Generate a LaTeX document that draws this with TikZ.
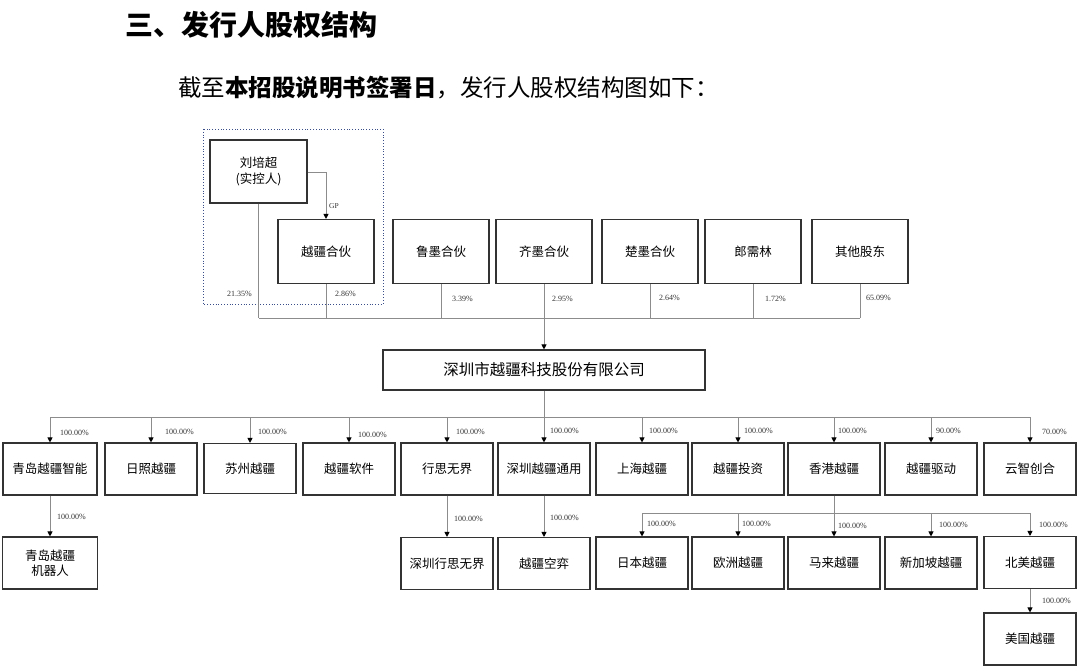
\documentclass[tikz,border=0pt]{standalone}
\usepackage{fontspec}
\setmainfont{Liberation Serif}
\newfontfamily\cjk{Noto Sans CJK SC}
\usetikzlibrary{arrows.meta}
\definecolor{bordercol}{HTML}{333333}
\definecolor{linecol}{HTML}{8C8C8C}
\definecolor{dotcol}{HTML}{3A4F8A}
\tikzset{
  bx/.style={draw=bordercol, line width=1.1pt, fill=white, minimum width=92pt, minimum height=52pt, inner sep=1pt, align=center, font=\cjk\fontsize{12.5}{15.5}\selectfont},
  shbox/.style={bx, minimum width=96pt, minimum height=64pt},
  conn/.style={draw=linecol, line width=0.9pt},
  arr/.style={conn, -{Triangle[length=5pt,width=5pt,fill=black,color=black]}},
  pct/.style={font=\fontsize{8}{9}\selectfont, text=black!80, inner sep=0pt, anchor=west},
}
\begin{document}
\begin{tikzpicture}[x=1pt,y=-1pt]
\useasboundingbox (0,0) rectangle (1080,671);
% titles
\node[anchor=west, font=\cjk\bfseries\fontsize{28}{31}\selectfont, inner sep=0pt] (title) at (125,25) {三、发行人股权结构};
\node[anchor=west, font=\cjk\fontsize{23.5}{27}\selectfont, inner sep=0pt] (sub) at (178,88) {截至{\bfseries 本招股说明书签署日}，发行人股权结构图如下：};
% dotted frame
\draw[dotcol, dotted, line width=0.8pt] (203,129) rectangle (383,304);
% shareholders
\node[bx, minimum width=97pt, minimum height=63pt] (liu) at (258.5,171.5) {刘培超\\(实控人)};
\node[shbox] (yjhh) at (326,251.5) {越疆合伙};
\node[shbox] (lm) at (441,251.5) {鲁墨合伙};
\node[shbox] (qm) at (544,251.5) {齐墨合伙};
\node[shbox] (cm) at (650,251.5) {楚墨合伙};
\node[shbox] (lxl) at (753,251.5) {郎需林};
\node[shbox] (qt) at (860,251.5) {其他股东};
% GP connector
\coordinate (gpc) at (326,172);
\draw[arr] (liu.east |- gpc) -- (gpc) -- (yjhh.north);
\node[pct, font=\fontsize{7.5}{8}\selectfont] (gp) at (329,206) {GP};
% main company
\node[bx, minimum width=322pt, minimum height=40pt, font=\cjk\fontsize{15.5}{18}\selectfont] (main) at (544,370) {深圳市越疆科技股份有限公司};
% shareholder bus
\coordinate (busL) at (259,318);
\coordinate (busR) at (860,318);
\draw[conn] (liu.south) -- (liu.south |- busL);
\foreach \n in {yjhh,lm,qm,cm,lxl,qt}{\draw[conn] (\n.south) -- (\n.south |- busL);}
\draw[conn] (busL) -- (busR);
\draw[arr] (qm.south |- busL) -- (main.north);
\node[pct] (p1) at (227,294) {21.35\%};
\node[pct] (p2) at (335,294) {2.86\%};
\node[pct] (p3) at (452,299) {3.39\%};
\node[pct] (p4) at (552,299) {2.95\%};
\node[pct] (p5) at (659,298) {2.64\%};
\node[pct] (p6) at (765,299) {1.72\%};
\node[pct] (p7) at (866,298) {65.09\%};
% subsidiaries row
\node[bx, minimum width=94pt] (s1) at (50,469) {青岛越疆智能};
\node[bx] (s2) at (151,469) {日照越疆};
\node[bx, minimum height=50pt] (s3) at (250,468.5) {苏州越疆};
\node[bx] (s4) at (349,469) {越疆软件};
\node[bx] (s5) at (447,469) {行思无界};
\node[bx] (s6) at (544,469) {深圳越疆通用};
\node[bx] (s7) at (642,469) {上海越疆};
\node[bx] (s8) at (738,469) {越疆投资};
\node[bx] (s9) at (834,469) {香港越疆};
\node[bx] (s10) at (931,469) {越疆驱动};
\node[bx] (s11) at (1030,469) {云智创合};
\coordinate (bus2L) at (50,417);
\coordinate (bus2R) at (1030,417);
\draw[conn] (main.south) -- (main.south |- bus2L);
\draw[conn] (bus2L) -- (bus2R);
\foreach \n in {s1,s2,s3,s4,s5,s6,s7,s8,s9,s10,s11}{\draw[arr] (\n.north |- bus2L) -- (\n.north);}
\node[pct] (q1) at (60,433) {100.00\%};
\node[pct] (q2) at (165,432) {100.00\%};
\node[pct] (q3) at (258,432) {100.00\%};
\node[pct] (q4) at (358,435) {100.00\%};
\node[pct] (q5) at (456,432) {100.00\%};
\node[pct] (q6) at (550,431) {100.00\%};
\node[pct] (q7) at (649,431) {100.00\%};
\node[pct] (q8) at (744,431) {100.00\%};
\node[pct] (q9) at (838,431) {100.00\%};
\node[pct] (q10) at (936,431) {90.00\%};
\node[pct] (q11) at (1042,432) {70.00\%};
% third row
\node[bx, minimum width=95pt] (t1) at (50,563) {青岛越疆\\机器人};
\node[bx] (t5) at (447,563.5) {深圳行思无界};
\node[bx] (t6) at (544,563.5) {越疆空弈};
\node[bx] (t7) at (642,563) {日本越疆};
\node[bx] (t8) at (738,563) {欧洲越疆};
\node[bx] (t9) at (834,563) {马来越疆};
\node[bx] (t10) at (931,563) {新加坡越疆};
\node[bx] (t11) at (1030,562.5) {北美越疆};
\draw[arr] (s1.south) -- (t1.north);
\draw[arr] (s5.south) -- (t5.north);
\draw[arr] (s6.south) -- (t6.north);
\node[pct] (r1) at (57,517) {100.00\%};
\node[pct] (r5) at (454,519) {100.00\%};
\node[pct] (r6) at (550,518) {100.00\%};
\coordinate (bus3L) at (642,513);
\coordinate (bus3R) at (1030,513);
\draw[conn] (s9.south) -- (s9.south |- bus3L);
\draw[conn] (bus3L) -- (bus3R);
\foreach \n in {t7,t8,t9,t10,t11}{\draw[arr] (\n.north |- bus3L) -- (\n.north);}
\node[pct] (u7) at (647,524) {100.00\%};
\node[pct] (u8) at (742,524) {100.00\%};
\node[pct] (u9) at (838,526) {100.00\%};
\node[pct] (u10) at (939,525) {100.00\%};
\node[pct] (u11) at (1039,525) {100.00\%};
% fourth row
\node[bx] (v11) at (1030,639) {美国越疆};
\draw[arr] (t11.south) -- (v11.north);
\node[pct] (w11) at (1042,601) {100.00\%};
\end{tikzpicture}
\end{document}
